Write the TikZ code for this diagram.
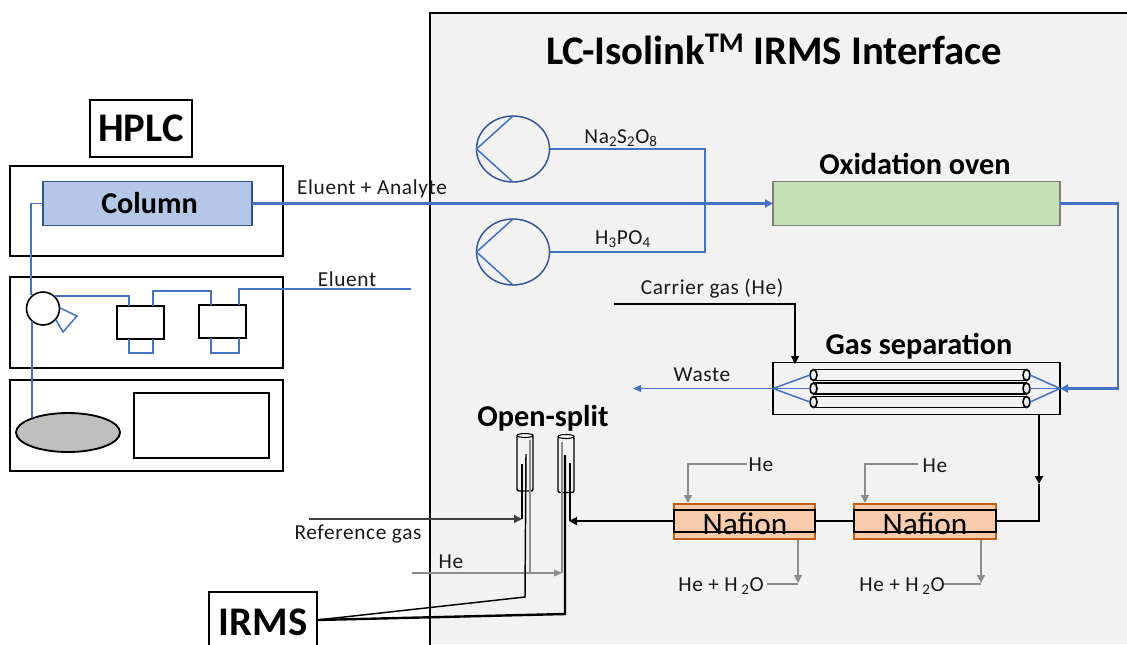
\documentclass[tikz,border=0pt]{standalone}
\usepackage{fontspec}
\setmainfont{Carlito}
\usetikzlibrary{arrows.meta,shapes.geometric,decorations.markings}
\definecolor{flowblue}{HTML}{4472C4}
\definecolor{edgeblue}{HTML}{2F5597}
\definecolor{colfill}{HTML}{B4C7E7}
\definecolor{panelbg}{HTML}{F2F2F2}
\definecolor{ovenfill}{HTML}{C5E0B4}
\definecolor{naffill}{HTML}{F8CBAD}
\definecolor{nafedge}{HTML}{C55A11}
\definecolor{gline}{HTML}{8C8C8C}
\tikzset{
  sz/.style 2 args={minimum width=#1*0.75pt,minimum height=#2*0.75pt,inner sep=0pt,outer sep=0pt},
  blackbox/.style={draw=black,line width=1.4pt},
  label/.style={font=\fontsize{16pt}{18pt}\selectfont\addfontfeature{LetterSpace=3},inner sep=0pt,text=black!90},
  head/.style={font=\fontsize{22.7pt}{24pt}\selectfont\bfseries,inner sep=0pt},
  big/.style={font=\fontsize{30.5pt}{32pt}\selectfont\bfseries,inner sep=0pt},
  flow/.style={draw=flowblue,line width=1.15pt},
  mainflow/.style={draw=flowblue,line width=1.8pt},
  greyflow/.style={draw=gline,line width=1pt},
  blk/.style={draw=black,line width=1.8pt},
  thin blk/.style={draw=black,line width=0.8pt},
  pumpc/.style={shape=ellipse,draw=edgeblue,line width=1.1pt,sz={73}{66}},
  tube/.style={draw=black,line width=1.1pt,sz={16}{56},rounded corners=1.5pt},
  gastube/.style={draw=black,line width=1.2pt,sz={213}{11}},
  gasend/.style={shape=ellipse,draw=black,line width=1.2pt,fill=panelbg,sz={7}{11}},
}
\begin{document}
\begin{tikzpicture}[x=0.75pt,y=-0.75pt]
\useasboundingbox (0,0) rectangle (1127,644);
\clip (0,0) rectangle (1127,644);
\fill[white] (0,0) rectangle (1127,644);
% interface panel
\fill[panelbg] (430,13) rectangle (1127,644);
\coordinate (pbl) at (430,650);
\coordinate (ptl) at (430,13);
\coordinate (ptr) at (1130,13);
\draw[blk] (pbl) -- (ptl) -- (ptr);
\node[big] (title) at (774,49) {LC-Isolink\textsuperscript{TM} IRMS Interface};
% HPLC
\node[big,blackbox,draw,sz={102}{57},fill=white] (hplc) at (141,128.5) {HPLC};
\node[blackbox,sz={273}{90},fill=white] (b1) at (146.5,211) {};
\node[blackbox,sz={273}{91},fill=white] (b2) at (146.5,322.5) {};
\node[blackbox,sz={273}{91},fill=white] (b3) at (146.5,425.5) {};
\node[draw=edgeblue,line width=1.2pt,fill=colfill,sz={209}{44}] (column) at (147.5,203.5) {};
\node[font=\fontsize{22.6pt}{24pt}\selectfont\bfseries,inner sep=0pt] (columnt) at (149.5,203) {Column};
\node[blackbox,line width=1.6pt,sz={135}{65}] (tray) at (201.5,425.5) {};
\node[shape=ellipse,blackbox,fill=black!25,sz={104}{39}] (res) at (68,432.5) {};
\node[shape=circle,draw=black,line width=1.2pt,fill=white,sz={33}{33}] (pump) at (43,308.5) {};
\node[blackbox,sz={47}{33},fill=white] (m1) at (140.5,322.5) {};
\node[blackbox,sz={47}{33},fill=white] (m2) at (222.5,321.5) {};
% HPLC plumbing
\coordinate (c1) at (31,203.5);
\coordinate (c2) at (31,295);
\coordinate (c3) at (32,321);
\coordinate (c4) at (32,418);
\draw[flow] (column.west) -- (c1) -- (c2);
\draw[flow] (c3) -- (c4);
\coordinate (t1) at (60,308);
\coordinate (t2) at (77,316);
\coordinate (t3) at (63,332);
\coordinate (t4) at (56,320);
\draw[flow] (t1) -- (t2) -- (t3) -- (t4);
\coordinate (p1) at (55,296);
\coordinate (p2) at (129,296);
\coordinate (p3) at (129,306);
\draw[flow] (p1) -- (p2) -- (p3);
\coordinate (p4) at (153,306);
\coordinate (p5) at (153,291);
\coordinate (p6) at (211,291);
\coordinate (p7) at (211,305);
\draw[flow] (p4) -- (p5) -- (p6) -- (p7);
\coordinate (p8) at (239,305);
\coordinate (p9) at (239,289);
\coordinate (eluentend) at (411,289);
\draw[flow] (p8) -- (p9) -- (eluentend);
\coordinate (l1) at (129,339);
\coordinate (l2) at (129,353);
\coordinate (l3) at (153,353);
\coordinate (l4) at (153,339);
\draw[flow] (l1) -- (l2) -- (l3) -- (l4);
\coordinate (l5) at (211,338);
\coordinate (l6) at (211,353);
\coordinate (l7) at (239,353);
\coordinate (l8) at (239,338);
\draw[flow] (l5) -- (l6) -- (l7) -- (l8);
\node[label] (elu) at (347,279) {Eluent};
\node[label] (elan) at (372,189) {Eluent + Analyte};
% pumps
\node[pumpc] (pa) at (513,149) {};
\node[pumpc] (pb) at (513,252) {};
\coordinate (pat) at (513,116);
\coordinate (pab) at (513,182);
\coordinate (pbt) at (513,219);
\coordinate (pbb) at (513,285);
\draw[flow] (pat) -- (pa.west) -- (pab);
\draw[flow] (pbt) -- (pb.west) -- (pbb);
\coordinate (jn) at (705,149);
\coordinate (js) at (705,252);
\draw[flow] (pa.east) -- (jn) -- (js) -- (pb.east);
\node[label] (na) at (621,138) {Na\textsubscript{2}S\textsubscript{2}O\textsubscript{8}};
\node[label] (hp) at (623,239) {H\textsubscript{3}PO\textsubscript{4}};
% oven
\node[draw=black!50,line width=1.2pt,fill=ovenfill,sz={287}{44}] (oven) at (916.5,203.5) {};
\node[head] (ovent) at (915,164) {Oxidation oven};
\draw[mainflow,-{Triangle[length=6pt,width=6pt]}] (column.east) -- (oven.west);
% gas separation
\node[blackbox,sz={287}{52}] (gas) at (916.5,388.5) {};
\node[head] (gast) at (919,346) {Gas separation};
\foreach \n/\yy in {a/375,b/388.5,c/402}{
  \node[gastube] (g\n) at (920,\yy) {};
  \node[gasend] (gl\n) at (813.5,\yy) {};
  \node[gasend] (gr\n) at (1026.5,\yy) {};
  \draw[flow] (gas.west) -- (gl\n.west);
  \draw[flow] (gas.east) -- (gr\n.east);
}
\coordinate (r1) at (1118,203.5);
\coordinate (r2) at (1118,388.5);
\draw[mainflow,-{Triangle[length=6pt,width=6pt]}] (oven.east) -- (r1) -- (r2) -- (gas.east);
\coordinate (wasteend) at (633,388.5);
\draw[flow,-{Triangle[length=6pt,width=5pt]}] (gas.west) -- (wasteend);
\node[label] (waste) at (702,375) {Waste};
\coordinate (cg1) at (614,304);
\coordinate (cg2) at (795,304);
\coordinate (cg3) at (795,364);
\draw[thin blk,-{Triangle[length=6pt,width=6pt]}] (cg1) -- (cg2) -- (cg3);
\node[label] (carrier) at (712,289) {Carrier gas (He)};
% nafion
\node[draw=nafedge,line width=1.1pt,fill=naffill,sz={141}{35}] (n1) at (744.5,521.5) {};
\node[blackbox,sz={141}{22}] (n1i) at (744.5,521) {};
\node[font=\fontsize{23.5pt}{24pt}\selectfont,inner sep=0pt] (n1t) at (745,524) {Nafion};
\node[draw=nafedge,line width=1.1pt,fill=naffill,sz={142}{35}] (n2) at (925,521.5) {};
\node[blackbox,sz={142}{22}] (n2i) at (925,521) {};
\node[font=\fontsize{23.5pt}{24pt}\selectfont,inner sep=0pt] (n2t) at (925,524) {Nafion};
\coordinate (s1) at (1039,415);
\coordinate (smid) at (1039,484);
\coordinate (s2) at (1039,521);
\draw[blk,-{Triangle[length=6pt,width=6pt]}] (s1) -- (smid);
\draw[blk] (smid) -- (s2) -- (n2i.east);
\draw[blk] (n2i.west) -- (n1i.east);
\coordinate (oin) at (569,521);
\draw[blk,-{Triangle[length=6pt,width=6pt]}] (n1i.west) -- (oin);
% He feeds
\coordinate (h1a) at (747,464); \coordinate (h1b) at (688,464); \coordinate (h1c) at (688,503);
\draw[greyflow,-{Triangle[length=6pt,width=6pt]}] (h1a) -- (h1b) -- (h1c);
\node[label] (he1) at (761,465) {He};
\coordinate (h2a) at (918,464); \coordinate (h2b) at (865,464); \coordinate (h2c) at (865,503);
\draw[greyflow,-{Triangle[length=6pt,width=6pt]}] (h2a) -- (h2b) -- (h2c);
\node[label] (he2) at (935,466) {He};
\coordinate (o1a) at (798,540); \coordinate (o1b) at (798,583); \coordinate (o1c) at (767,584); \coordinate (o1d) at (798,584);
\draw[greyflow,-{Triangle[length=6pt,width=6pt]}] (o1a) -- (o1b);
\draw[greyflow] (o1c) -- (o1d);
\node[label] (w1) at (721,586) {He + H\,\textsubscript{2}O};
\coordinate (o2a) at (981,540); \coordinate (o2b) at (981,583); \coordinate (o2c) at (943,584); \coordinate (o2d) at (981,584);
\draw[greyflow,-{Triangle[length=6pt,width=6pt]}] (o2a) -- (o2b);
\draw[greyflow] (o2c) -- (o2d);
\node[label] (w2) at (902,586) {He + H\,\textsubscript{2}O};
% open split
\node[head] (ost) at (543,418) {Open-split};
\node[tube] (tA) at (525,463) {};
\node[tube] (tB) at (566,464.5) {};
\node[shape=ellipse,draw=black,line width=0.8pt,fill=panelbg,sz={16}{4}] (tAe) at (525,435.5) {};
\node[shape=ellipse,draw=black,line width=0.8pt,fill=panelbg,sz={16}{4}] (tBe) at (566,436.5) {};
% inner lines
\coordinate (a1) at (530,440); \coordinate (a2) at (530,573);
\draw[greyflow] (a1) -- (a2);
\coordinate (b1x) at (562,442); \coordinate (b2x) at (562,573);
\coordinate (hestart) at (412,573);
\draw[greyflow] (b1x) -- (b2x);
\draw[greyflow,-{Triangle[length=6pt,width=5pt]}] (hestart) -- (b2x);
\node[label] (he3) at (451,562) {He};
\coordinate (rg1) at (309,519); \coordinate (rg2) at (522,519); \coordinate (rg3) at (522,464);
\draw[line width=1pt,draw=black!75,-{Triangle[length=6pt,width=6pt]}] (rg1) -- (rg2);
\draw[line width=1.2pt] (rg3) -- (rg2);
\coordinate (sp1) at (570,463); \coordinate (sp2) at (570,521);
\draw[line width=1.2pt] (sp1) -- (sp2);
\node[label] (ref) at (358,534) {Reference gas};
% IRMS
\node[big,blackbox,fill=white,sz={108}{60}] (irms) at (263,622) {IRMS};
\coordinate (ia) at (526,454); \coordinate (ib) at (525,597);
\coordinate (ic) at (565,455); \coordinate (id) at (565,614);
\coordinate (ie) at (317,620);
\draw[line width=1.1pt] (ia) -- (ib) -- (ie);
\draw[blk] (ic) -- (id) -- (ie);
\end{tikzpicture}
\end{document}
